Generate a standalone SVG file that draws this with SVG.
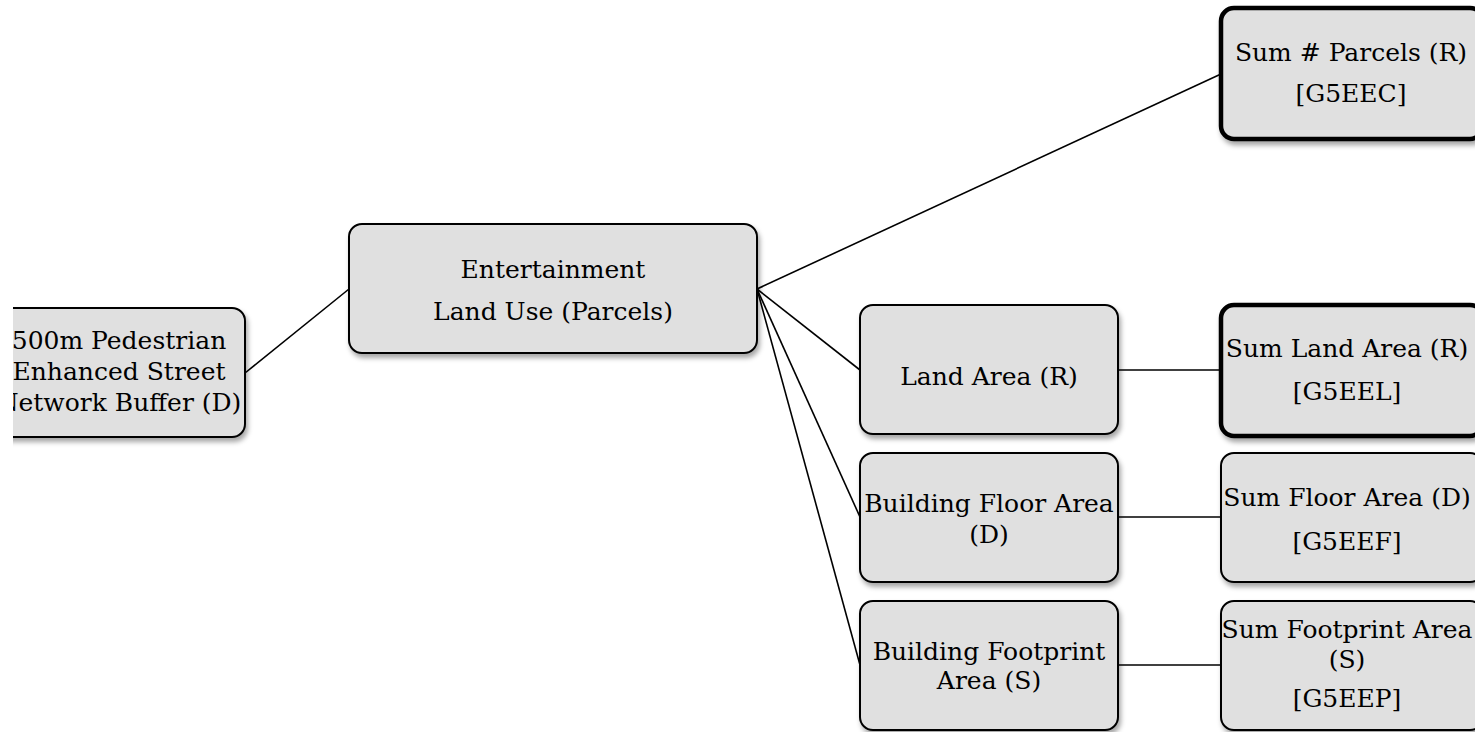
<svg xmlns="http://www.w3.org/2000/svg" width="1475" height="732" viewBox="0 0 1475 732">
<style>
.box{fill:#e0e0e0;stroke:#000;stroke-width:2;filter:url(#sh)}
.thick{stroke-width:4.5}
.t{font-family:"DejaVu Serif","Liberation Serif",serif;font-size:25px;fill:#000;text-anchor:middle}
.c line{stroke:#000;stroke-width:1.6}
</style>
<defs>
<filter id="sh" x="-10%" y="-10%" width="130%" height="140%">
<feDropShadow dx="2" dy="4" stdDeviation="2.5" flood-color="#000" flood-opacity="0.35"/>
</filter>
<clipPath id="cl"><rect x="13" y="0" width="400" height="732"/></clipPath>
</defs>
<rect width="1475" height="732" fill="#fff"/>
<g class="c" id="connectors">
<line x1="245" y1="373" x2="349" y2="289"/>
<line x1="757" y1="289" x2="1221" y2="74"/>
<line x1="757" y1="289" x2="860" y2="370"/>
<line x1="757" y1="289" x2="860" y2="517"/>
<line x1="757" y1="289" x2="860" y2="665"/>
<line x1="1118" y1="370" x2="1221" y2="370"/>
<line x1="1118" y1="517" x2="1221" y2="517"/>
<line x1="1118" y1="665" x2="1221" y2="665"/>
</g>
<g id="n-buffer" clip-path="url(#cl)">
<rect class="box" x="-8" y="308" width="253" height="129" rx="13"/>
<text class="t" x="119" y="349">500m Pedestrian</text>
<text class="t" x="119" y="380">Enhanced Street</text>
<text class="t" x="119" y="411">Network Buffer (D)</text>
</g>
<g id="n-entertainment">
<rect class="box" x="349" y="224" width="408" height="129" rx="13"/>
<text class="t" x="553" y="278">Entertainment</text>
<text class="t" x="553" y="320">Land Use (Parcels)</text>
</g>
<g id="n-sumparcels">
<rect class="box thick" x="1221" y="8" width="262" height="131" rx="13"/>
<text class="t" x="1351" y="61">Sum # Parcels (R)</text>
<text class="t" x="1351" y="102">[G5EEC]</text>
</g>
<g id="n-landarea">
<rect class="box" x="860" y="305" width="258" height="129" rx="13"/>
<text class="t" x="989" y="385">Land Area (R)</text>
</g>
<g id="n-sumland">
<rect class="box thick" x="1221" y="305" width="262" height="131" rx="13"/>
<text class="t" x="1347" y="357">Sum Land Area (R)</text>
<text class="t" x="1347" y="400">[G5EEL]</text>
</g>
<g id="n-floor">
<rect class="box" x="860" y="453" width="258" height="129" rx="13"/>
<text class="t" x="989" y="512">Building Floor Area</text>
<text class="t" x="989" y="543">(D)</text>
</g>
<g id="n-sumfloor">
<rect class="box" x="1221" y="453" width="262" height="129" rx="13"/>
<text class="t" x="1347" y="506">Sum Floor Area (D)</text>
<text class="t" x="1347" y="550">[G5EEF]</text>
</g>
<g id="n-footprint">
<rect class="box" x="860" y="601" width="258" height="129" rx="13"/>
<text class="t" x="989" y="660">Building Footprint</text>
<text class="t" x="989" y="689">Area (S)</text>
</g>
<g id="n-sumfootprint">
<rect class="box" x="1221" y="601" width="262" height="129" rx="13"/>
<text class="t" x="1347" y="638">Sum Footprint Area</text>
<text class="t" x="1347" y="668">(S)</text>
<text class="t" x="1347" y="707">[G5EEP]</text>
</g>
</svg>
